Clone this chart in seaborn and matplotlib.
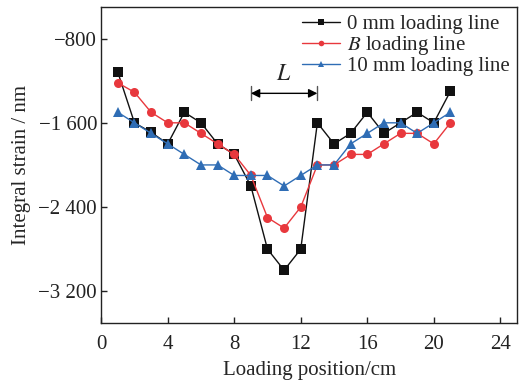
"""
Integral strain along loading position for three loading lines
"""

import numpy as np
import pandas as pd
import matplotlib
matplotlib.use("Agg")
import matplotlib.pyplot as plt
import matplotlib.ticker as mticker
from matplotlib.lines import Line2D
import seaborn as sns

# data
positions = list(range(1, 22))
strain_0mm = [-1120, -1600, -1690, -1800, -1500, -1600, -1800, -1900, -2200, -2800,
              -3000, -2800, -1600, -1800, -1700, -1500, -1700, -1600, -1500, -1600, -1300]
strain_b = [-1220, -1310, -1500, -1600, -1600, -1700, -1800, -1900, -2100, -2500,
            -2600, -2400, -2000, -2000, -1900, -1900, -1800, -1700, -1700, -1800, -1600]
strain_10mm = [-1500, -1600, -1700, -1800, -1900, -2000, -2000, -2100, -2100, -2100,
               -2200, -2100, -2000, -2000, -1800, -1700, -1600, -1600, -1700, -1600, -1500]
series_labels = ["0 mm loading line", "$B$ loading line", "10 mm loading line"]
x_ticks = [0, 4, 8, 12, 16, 20, 24]
y_ticks = [-800, -1600, -2400, -3200]
span_start, span_end, span_level = 9, 13, -1320

sns.set_theme(style="ticks")
plt.rcParams["font.family"] = ["Liberation Serif", "DejaVu Serif"]
plt.rcParams["mathtext.fontset"] = "stix"

df = pd.DataFrame({
    "pos": positions * 3,
    "strain": strain_0mm + strain_b + strain_10mm,
    "series": [series_labels[0]] * 21 + [series_labels[1]] * 21 + [series_labels[2]] * 21,
})

fig = plt.figure(figsize=(5.19, 3.89), dpi=100)
ax = fig.add_axes([0.195, 0.170, 0.801, 0.812])

colors = ["#111111", "#e8383d", "#2f6db5"]
markers = ["s", "o", "^"]
sns.lineplot(data=df, x="pos", y="strain", hue="series", style="series",
             palette=colors, markers=markers, dashes=False, markersize=6.5,
             markeredgewidth=0, linewidth=1.0, ax=ax, legend=False)

# span annotation
ax.annotate("", xy=(span_start, span_level), xytext=(span_end, span_level),
            arrowprops=dict(arrowstyle="<|-|>", color="black", lw=1.0,
                            shrinkA=0, shrinkB=0, mutation_scale=13))
ax.plot([span_start, span_start], [span_level - 65, span_level + 65], color="#555555", lw=1)
ax.plot([span_end, span_end], [span_level - 65, span_level + 65], color="#555555", lw=1)
ax.text((span_start + span_end) / 2, span_level + 80, "$L$", ha="center", va="bottom",
        fontsize=17)

ax.set_xlim(0, 25)
ax.set_ylim(-3500, -500)
ax.set_xticks(x_ticks)
ax.set_yticks(y_ticks)
ax.yaxis.set_major_formatter(mticker.FuncFormatter(
    lambda v, p: ("\u2212" if v < 0 else "") + f"{abs(int(v)):,}".replace(",", " ")))
ax.tick_params(direction="in", length=4, width=1, labelsize=15, colors="#222222",
               top=False, right=False)
ax.tick_params(axis="x", pad=9)
ax.tick_params(axis="y", pad=3)
for sp in ax.spines.values():
    sp.set_visible(True)
    sp.set_linewidth(1.0)
    sp.set_color("#222222")

ax.set_xlabel("Loading position/cm", fontsize=15, labelpad=5)
ax.set_ylabel("Integral strain / nm", fontsize=15, labelpad=5)

handles = [Line2D([], [], color=c, marker=m, markersize=4, markeredgewidth=0, lw=1.0)
           for c, m in zip(colors, markers)]
leg = ax.legend(handles, series_labels, loc="upper right", borderaxespad=0, fontsize=15,
                frameon=False, handlelength=1.8, handletextpad=0.35, borderpad=0.35,
                labelspacing=0.0)

plt.savefig("out.png", dpi=100)
